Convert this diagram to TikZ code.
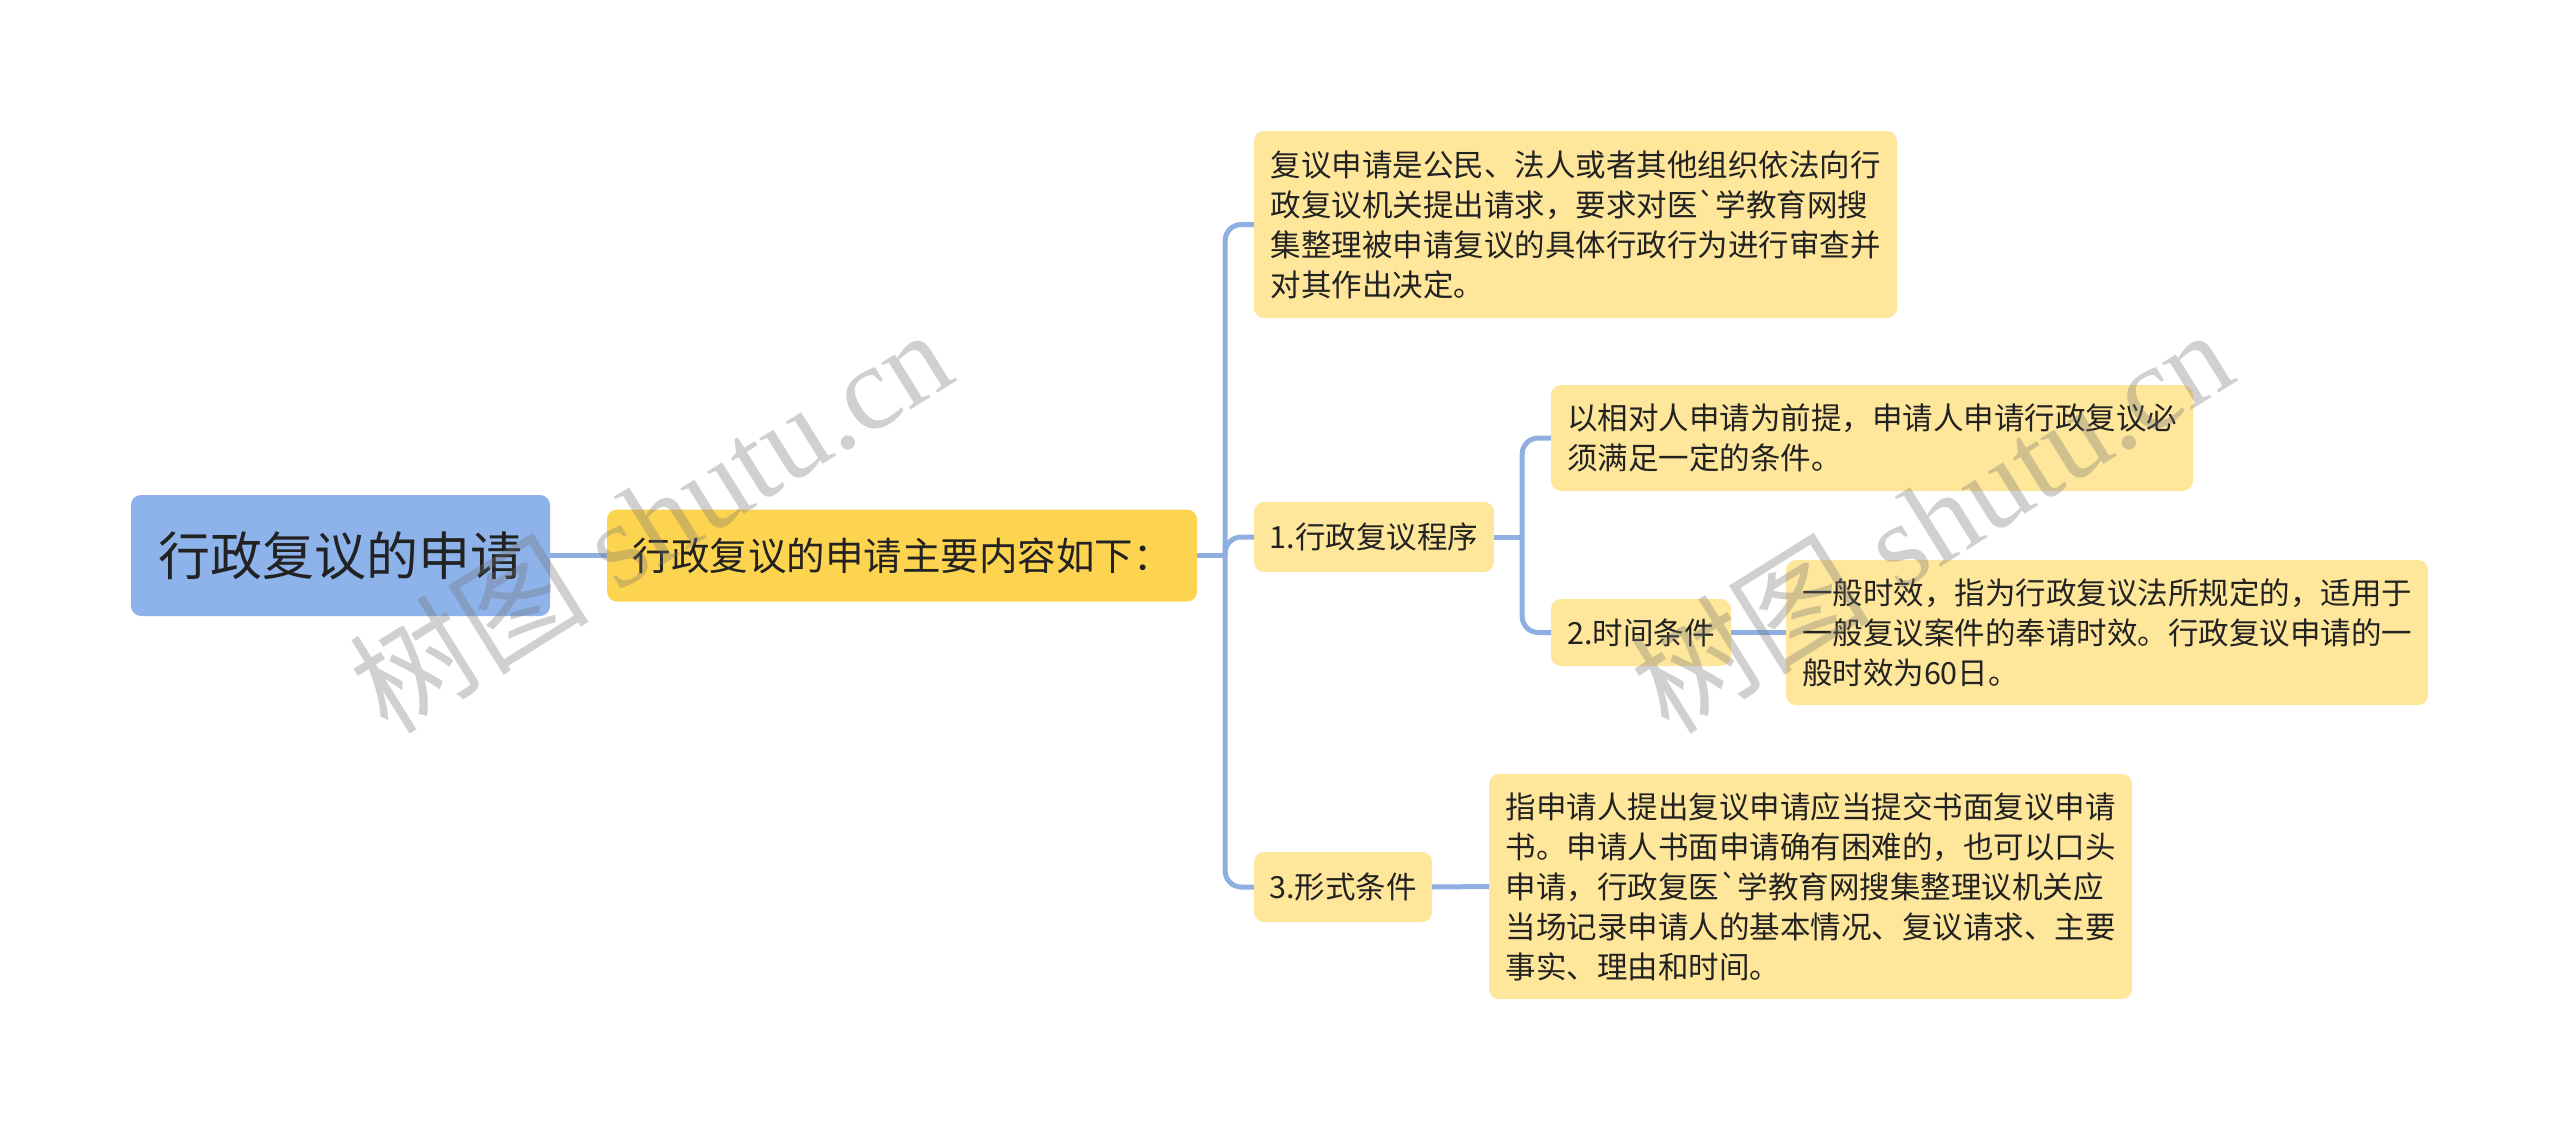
\documentclass[tikz,border=0pt]{standalone}
\usepackage{fontspec}
\setmainfont{Noto Sans CJK SC}[Ligatures=TeXOff]
\newfontfamily\wmlatin{Liberation Serif}
\usetikzlibrary{calc}
\definecolor{rootblue}{HTML}{8EB3EB}
\definecolor{mainyellow}{HTML}{FDD450}
\definecolor{leafyellow}{HTML}{FEE69B}
\definecolor{linkblue}{HTML}{8FAFE2}
\definecolor{txt}{HTML}{222222}
\tikzset{
  box/.style={rounded corners=10pt, inner sep=0pt, align=left, text=txt},
  rootbox/.style={box, fill=rootblue, font=\fontsize{52}{60}\selectfont},
  mainbox/.style={box, fill=mainyellow, font=\fontsize{38.5}{46}\selectfont},
  leafbox/.style={box, fill=leafyellow, font=\fontsize{30.5}{40}\selectfont},
  conn/.style={draw=linkblue, line width=5pt, rounded corners=16pt},
  wm/.style={text=black!55, opacity=0.33, rotate=32, font=\fontsize{120}{130}\selectfont}
}
\begin{document}
\begin{tikzpicture}[x=1pt,y=-1pt]
\useasboundingbox (0,0) rectangle (2560,1132);
\fill[white] (0,0) rectangle (2560,1132);

\node[rootbox, minimum width=419pt, minimum height=121pt] (root) at (340.5,555.5) {行政复议的申请};
\node[mainbox, minimum width=590pt, minimum height=92pt] (main) at (902,555.5) {行政复议的申请主要内容如下：};

\node[leafbox, minimum width=643pt, minimum height=187pt] (a) at (1575.5,224.5)
  {复议申请是公民、法人或者其他组织依法向行\\政复议机关提出请求，要求对医`学教育网搜\\集整理被申请复议的具体行政行为进行审查并\\对其作出决定。};
\node[leafbox, minimum width=240pt, minimum height=70pt] (n1) at (1374,537) {1.行政复议程序};
\node[leafbox, minimum width=642pt, minimum height=106pt] (b) at (1872,438)
  {以相对人申请为前提，申请人申请行政复议必\\须满足一定的条件。};
\node[leafbox, minimum width=180pt, minimum height=67pt] (n2) at (1641,632.5) {2.时间条件};
\node[leafbox, minimum width=642pt, minimum height=145pt] (c) at (2107,632.5)
  {一般时效，指为行政复议法所规定的，适用于\\一般复议案件的奉请时效。行政复议申请的一\\般时效为60日。};
\node[leafbox, minimum width=178pt, minimum height=70pt] (n3) at (1343,887) {3.形式条件};
\node[leafbox, minimum width=643pt, minimum height=225pt] (d) at (1810.5,886.5)
  {指申请人提出复议申请应当提交书面复议申请\\书。申请人书面申请确有困难的，也可以口头\\申请，行政复医`学教育网搜集整理议机关应\\当场记录申请人的基本情况、复议请求、主要\\事实、理由和时间。};

\coordinate (t) at ($(main.east)+(28,0)$);
\coordinate (s) at ($(n1.east)+(28,0)$);

\draw[conn] (root.east) -- (main.west);
\draw[conn] (main.east) -- (t);
\draw[conn] (t) |- (a.west);
\draw[conn] (t) |- (n1.west);
\draw[conn] (t) |- (n3.west);
\draw[conn] (n1.east) -- (s);
\draw[conn] (s) |- (b.west);
\draw[conn] (s) |- (n2.west);
\draw[conn] (n2.east) -- (c.west);
\draw[conn] (n3.east) -- (d.west);

\node[wm] (wm1) at (650,519) {树图{\wmlatin\ shutu.cn}};
\node[wm] (wm2) at (1931,519) {树图{\wmlatin\ shutu.cn}};
\end{tikzpicture}
\end{document}
